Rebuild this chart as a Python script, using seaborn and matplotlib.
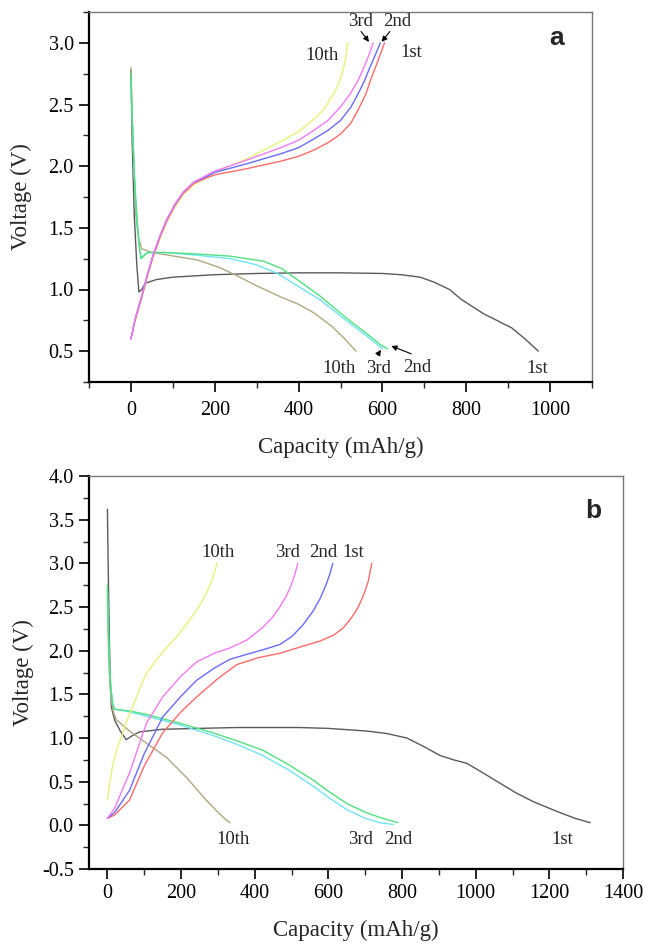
import numpy as np
import pandas as pd
import matplotlib
matplotlib.use('Agg')
import matplotlib.pyplot as plt
from matplotlib.ticker import MultipleLocator, FormatStrFormatter
import seaborn as sns

# ---- panel a: discharge / charge curves (capacity mAh/g, voltage V)
a_dis1_cap = [0, 3, 8, 14, 19, 26, 34, 60, 100, 200, 300, 400, 500, 600, 644, 690, 723, 760, 788, 820, 843, 867, 890, 908, 940, 972]
a_dis1_v = [2.78, 2.2, 1.6, 1.2, 0.98, 1.0, 1.05, 1.08, 1.10, 1.12, 1.13, 1.135, 1.135, 1.13, 1.12, 1.1, 1.06, 1.0, 0.92, 0.85, 0.80, 0.76, 0.72, 0.69, 0.60, 0.50]
a_dis2_cap = [0, 4, 8, 12, 16, 20, 24, 40, 80, 150, 237, 316, 360, 397, 450, 517, 560, 596, 612]
a_dis2_v = [2.75, 2.3, 1.95, 1.7, 1.5, 1.35, 1.25, 1.30, 1.30, 1.29, 1.27, 1.23, 1.17, 1.08, 0.95, 0.76, 0.65, 0.55, 0.52]
a_dis3_cap = [0, 4, 8, 12, 16, 20, 24, 40, 80, 150, 237, 300, 350, 397, 450, 517, 560, 600]
a_dis3_v = [2.7, 2.3, 1.95, 1.7, 1.5, 1.35, 1.26, 1.30, 1.30, 1.28, 1.25, 1.20, 1.13, 1.03, 0.92, 0.74, 0.63, 0.52]
a_dis10_cap = [0, 4, 8, 12, 18, 26, 50, 86, 158, 210, 254, 300, 357, 400, 437, 480, 510, 537]
a_dis10_v = [2.8, 2.3, 1.9, 1.6, 1.42, 1.33, 1.30, 1.28, 1.24, 1.18, 1.11, 1.03, 0.94, 0.88, 0.81, 0.70, 0.60, 0.50]

a_chg1_cap = [0, 10, 26, 40, 53, 70, 86, 105, 125, 150, 177, 200, 277, 357, 400, 436, 470, 500, 525, 541, 560, 572, 590, 605]
a_chg1_v = [0.60, 0.75, 0.94, 1.12, 1.27, 1.43, 1.56, 1.68, 1.78, 1.86, 1.90, 1.93, 1.98, 2.04, 2.08, 2.13, 2.19, 2.26, 2.35, 2.45, 2.58, 2.70, 2.86, 3.0]
a_chg2_cap = [0, 10, 26, 40, 53, 70, 86, 105, 125, 150, 177, 200, 277, 357, 400, 436, 470, 500, 525, 541, 557, 570, 584, 595]
a_chg2_v = [0.60, 0.76, 0.95, 1.13, 1.28, 1.44, 1.57, 1.69, 1.79, 1.87, 1.91, 1.95, 2.02, 2.10, 2.15, 2.22, 2.29, 2.37, 2.48, 2.58, 2.69, 2.80, 2.91, 3.0]
a_chg3_cap = [0, 10, 26, 40, 53, 70, 86, 105, 125, 150, 177, 200, 277, 357, 400, 436, 470, 500, 522, 541, 552, 563, 572, 578]
a_chg3_v = [0.60, 0.76, 0.95, 1.13, 1.28, 1.44, 1.57, 1.69, 1.79, 1.87, 1.92, 1.96, 2.05, 2.15, 2.21, 2.29, 2.37, 2.48, 2.58, 2.69, 2.77, 2.86, 2.94, 3.0]
a_chg10_cap = [0, 10, 26, 40, 53, 70, 86, 105, 125, 150, 177, 200, 277, 357, 400, 436, 460, 477, 490, 500, 510, 517]
a_chg10_v = [0.60, 0.75, 0.93, 1.11, 1.26, 1.42, 1.55, 1.67, 1.77, 1.85, 1.90, 1.95, 2.06, 2.20, 2.28, 2.38, 2.46, 2.55, 2.63, 2.71, 2.83, 3.0]

# ---- panel b
b_dis1_cap = [0, 2, 5, 8, 11, 20, 35, 51, 65, 87, 150, 250, 350, 468, 522, 600, 704, 760, 813, 860, 903, 940, 976, 1020, 1067, 1110, 1157, 1220, 1270, 1311]
b_dis1_v = [3.62, 3.0, 2.2, 1.6, 1.35, 1.2, 1.08, 0.98, 1.02, 1.07, 1.10, 1.11, 1.12, 1.12, 1.12, 1.11, 1.08, 1.05, 1.0, 0.9, 0.80, 0.75, 0.71, 0.60, 0.48, 0.37, 0.27, 0.16, 0.08, 0.03]
b_dis2_cap = [0, 3, 6, 10, 14, 19, 60, 106, 196, 286, 350, 422, 490, 558, 600, 650, 700, 740, 789]
b_dis2_v = [2.75, 2.2, 1.8, 1.55, 1.4, 1.33, 1.31, 1.27, 1.17, 1.06, 0.97, 0.86, 0.70, 0.52, 0.39, 0.25, 0.15, 0.09, 0.03]
b_dis3_cap = [0, 3, 6, 10, 14, 19, 60, 106, 196, 286, 350, 422, 490, 558, 600, 650, 700, 740, 776]
b_dis3_v = [2.7, 2.2, 1.8, 1.55, 1.4, 1.33, 1.30, 1.25, 1.15, 1.03, 0.93, 0.80, 0.64, 0.45, 0.32, 0.18, 0.08, 0.03, 0.01]
b_dis10_cap = [0, 3, 6, 10, 16, 24, 60, 106, 160, 214, 268, 300, 323, 333]
b_dis10_v = [2.6, 2.0, 1.65, 1.45, 1.30, 1.21, 1.08, 0.94, 0.78, 0.55, 0.29, 0.15, 0.06, 0.03]

b_chg1_cap = [0, 20, 60, 100, 150, 200, 242, 300, 351, 410, 468, 522, 577, 615, 640, 660, 680, 695, 708, 718]
b_chg1_v = [0.08, 0.12, 0.29, 0.68, 1.06, 1.30, 1.47, 1.68, 1.84, 1.92, 1.97, 2.04, 2.11, 2.18, 2.26, 2.36, 2.49, 2.63, 2.79, 3.0]
b_chg2_cap = [0, 20, 60, 100, 150, 200, 242, 290, 332, 380, 422, 468, 500, 530, 558, 578, 595, 605, 612]
b_chg2_v = [0.08, 0.15, 0.40, 0.82, 1.24, 1.48, 1.66, 1.80, 1.90, 1.96, 2.01, 2.07, 2.16, 2.29, 2.45, 2.60, 2.77, 2.89, 3.0]
b_chg3_cap = [0, 20, 60, 106, 150, 200, 242, 290, 332, 378, 420, 448, 468, 485, 498, 508, 517]
b_chg3_v = [0.08, 0.2, 0.6, 1.17, 1.47, 1.71, 1.87, 1.97, 2.03, 2.12, 2.26, 2.38, 2.50, 2.62, 2.74, 2.86, 3.0]
b_chg10_cap = [0, 5, 15, 28, 42, 55, 69, 86, 106, 130, 150, 190, 223, 248, 269, 283, 292, 297]
b_chg10_v = [0.29, 0.45, 0.71, 0.90, 1.06, 1.22, 1.36, 1.55, 1.74, 1.88, 1.98, 2.17, 2.35, 2.50, 2.66, 2.80, 2.91, 3.0]

colors = {'dis1': '#5a5a5a', 'chg1': '#ff6a6a', 'dis2': '#50e080', 'chg2': '#6a6aff',
          'dis3': '#70e4f4', 'chg3': '#f27af2', 'chg10': '#e6f27a', 'dis10': '#b0a880'}

sns.set_style('ticks')
plt.rcParams['font.family'] = ['Liberation Serif', 'DejaVu Serif']
plt.rcParams['xtick.direction'] = 'out'
plt.rcParams['ytick.direction'] = 'out'

fig = plt.figure(figsize=(6.46, 9.44), dpi=100)
ax1 = fig.add_axes([89 / 646, 1 - 382 / 944, 503 / 646, 370 / 944])
ax2 = fig.add_axes([89 / 646, 1 - 869 / 944, 534 / 646, 393 / 944])


def draw(ax, curves):
    for key, cap, v in curves:
        df = pd.DataFrame({'cap': cap, 'v': v})
        sns.lineplot(data=df, x='cap', y='v', ax=ax, sort=False, color=colors[key],
                     lw=1.0, estimator=None)


draw(ax1, [('dis1', a_dis1_cap, a_dis1_v), ('dis10', a_dis10_cap, a_dis10_v),
           ('dis3', a_dis3_cap, a_dis3_v), ('dis2', a_dis2_cap, a_dis2_v),
           ('chg10', a_chg10_cap, a_chg10_v), ('chg1', a_chg1_cap, a_chg1_v),
           ('chg2', a_chg2_cap, a_chg2_v), ('chg3', a_chg3_cap, a_chg3_v)])
draw(ax2, [('dis1', b_dis1_cap, b_dis1_v), ('dis10', b_dis10_cap, b_dis10_v),
           ('dis3', b_dis3_cap, b_dis3_v), ('dis2', b_dis2_cap, b_dis2_v),
           ('chg10', b_chg10_cap, b_chg10_v), ('chg1', b_chg1_cap, b_chg1_v),
           ('chg2', b_chg2_cap, b_chg2_v), ('chg3', b_chg3_cap, b_chg3_v)])

ax1.set_xlim(-100, 1100)
ax1.set_ylim(0.25, 3.25)
ax1.xaxis.set_major_locator(MultipleLocator(200))
ax1.xaxis.set_minor_locator(MultipleLocator(100))
ax1.yaxis.set_major_locator(MultipleLocator(0.5))
ax1.yaxis.set_minor_locator(MultipleLocator(0.25))
ax1.set_xticks([0, 200, 400, 600, 800, 1000])

ax2.set_xlim(-50, 1400)
ax2.set_ylim(-0.5, 4.0)
ax2.xaxis.set_major_locator(MultipleLocator(200))
ax2.xaxis.set_minor_locator(MultipleLocator(100))
ax2.yaxis.set_major_locator(MultipleLocator(0.5))
ax2.yaxis.set_minor_locator(MultipleLocator(0.25))

for ax in (ax1, ax2):
    ax.yaxis.set_major_formatter(FormatStrFormatter('%.1f'))
    ax.tick_params(which='major', length=7, width=1.2, labelsize=14.5, colors='black', pad=4)
    ax.tick_params(which='minor', length=4, width=1.0)
    ax.tick_params(top=False, right=False, which='both')
    for s in ('left', 'bottom'):
        ax.spines[s].set_linewidth(1.6)
        ax.spines[s].set_color('black')
    for s in ('top', 'right'):
        ax.spines[s].set_visible(True)
        ax.spines[s].set_linewidth(1.0)
        ax.spines[s].set_color('#777777')

ax1.tick_params(axis='x', which='major', pad=7)
ax1.set_xlabel('Capacity (mAh/g)', fontsize=16.5, labelpad=12)
ax1.set_ylabel('Voltage (V)', fontsize=16.5, labelpad=12)
ax2.set_xlabel('Capacity (mAh/g)', fontsize=16.5, labelpad=12)
ax2.set_ylabel('Voltage (V)', fontsize=16.5, labelpad=6)

lbl = 13.5
# panel a labels
ax1.text(457, 2.9, '10th', fontsize=lbl, ha='center', va='center')
ax1.text(548, 3.17, '3rd', fontsize=lbl, ha='center', va='center')
ax1.text(636, 3.17, '2nd', fontsize=lbl, ha='center', va='center')
ax1.text(668, 2.92, '1st', fontsize=lbl, ha='center', va='center')
ax1.annotate('', xy=(572, 2.99), xytext=(545, 3.11),
             arrowprops=dict(arrowstyle='-|>', color='black', lw=0.8, mutation_scale=8))
ax1.annotate('', xy=(594, 2.99), xytext=(622, 3.11),
             arrowprops=dict(arrowstyle='-|>', color='black', lw=0.8, mutation_scale=8))
ax1.text(496, 0.36, '10th', fontsize=lbl, ha='center', va='center')
ax1.text(590, 0.36, '3rd', fontsize=lbl, ha='center', va='center')
ax1.text(683, 0.37, '2nd', fontsize=lbl, ha='center', va='center')
ax1.text(970, 0.36, '1st', fontsize=lbl, ha='center', va='center')
ax1.annotate('', xy=(600, 0.53), xytext=(585, 0.45),
             arrowprops=dict(arrowstyle='-|>', color='black', lw=0.8, mutation_scale=8))
ax1.annotate('', xy=(615, 0.55), xytext=(675, 0.47),
             arrowprops=dict(arrowstyle='-|>', color='black', lw=0.8, mutation_scale=8))
ax1.text(0.93, 0.93, 'a', transform=ax1.transAxes, fontsize=19, fontweight='bold',
         family='Liberation Sans', ha='center', va='center')

# panel b labels
ax2.text(300, 3.12, '10th', fontsize=lbl, ha='center', va='center')
ax2.text(490, 3.12, '3rd', fontsize=lbl, ha='center', va='center')
ax2.text(585, 3.12, '2nd', fontsize=lbl, ha='center', va='center')
ax2.text(667, 3.12, '1st', fontsize=lbl, ha='center', va='center')
ax2.text(340, -0.16, '10th', fontsize=lbl, ha='center', va='center')
ax2.text(686, -0.16, '3rd', fontsize=lbl, ha='center', va='center')
ax2.text(790, -0.16, '2nd', fontsize=lbl, ha='center', va='center')
ax2.text(1235, -0.16, '1st', fontsize=lbl, ha='center', va='center')
ax2.text(0.945, 0.91, 'b', transform=ax2.transAxes, fontsize=19, fontweight='bold',
         family='Liberation Sans', ha='center', va='center')

fig.savefig('out.png', dpi=100)
